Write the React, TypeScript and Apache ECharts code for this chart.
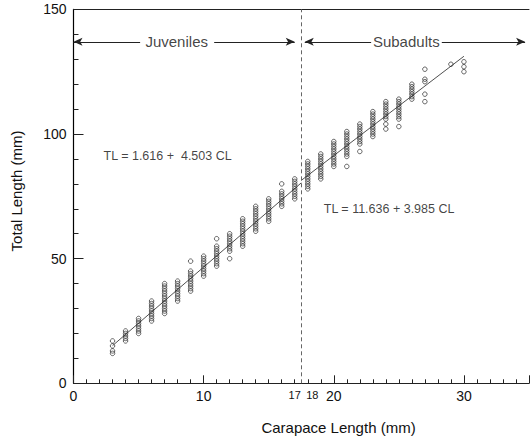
import React, { useEffect, useRef } from "react";
import * as echarts from "echarts";

const FONT = "'Liberation Sans', Arial, Helvetica, sans-serif";

// Carapace length (mm) columns and the total lengths (mm) read at each column
const juvenileCL = [3, 4, 5, 6, 7, 8, 9, 10, 11, 12, 13, 14, 15, 16, 17];
const juvenileTL = [
  [12, 13, 15, 17],
  [17, 18, 19, 20, 21],
  [20, 21, 22, 23, 24, 25, 26],
  [25, 26, 27, 28, 29, 30, 31, 32, 33],
  [28, 29, 30, 31, 32, 33, 34, 35, 36, 37, 38, 39, 40],
  [33, 34, 35, 36, 37, 38, 39, 40, 41],
  [37, 38, 39, 40, 41, 42, 43, 44, 45, 49],
  [43, 44, 45, 46, 47, 48, 49, 50, 51],
  [47, 48, 49, 50, 51, 52, 53, 54, 55, 58],
  [50, 53, 54, 55, 56, 57, 58, 59, 60],
  [55, 56, 57, 58, 59, 60, 61, 62, 63, 64, 65, 66],
  [61, 62, 63, 64, 65, 66, 67, 68, 69, 70, 71],
  [65, 66, 67, 68, 69, 70, 71, 72, 73, 74],
  [71, 72, 73, 74, 75, 76, 77, 80],
  [74, 75, 76, 77, 78, 79, 80, 81, 82],
];
const subadultCL = [18, 19, 20, 21, 22, 23, 24, 25, 26, 27, 29, 30];
const subadultTL = [
  [78, 79, 80, 81, 82, 83, 84, 85, 86, 87, 88, 89],
  [82, 83, 84, 85, 86, 87, 88, 89, 90, 91, 92],
  [87, 88, 89, 90, 91, 92, 93, 94, 95, 96, 97],
  [87, 91, 92, 93, 94, 95, 96, 97, 98, 99, 100, 101],
  [93, 96, 97, 98, 99, 100, 101, 102, 103, 104],
  [99, 100, 101, 102, 103, 104, 105, 106, 107, 108, 109],
  [102, 104, 106, 107, 108, 109, 110, 111, 112, 113],
  [103, 106, 107, 108, 109, 110, 111, 112, 113, 114],
  [114, 115, 116, 117, 118, 119, 120],
  [113, 116, 121, 122, 126],
  [128],
  [125, 127, 129],
];

// Regression lines (end points)
const juvenileFit = [
  [3, 15.1],
  [17.5, 80.4],
];
const subadultFit = [
  [17.5, 81.4],
  [30, 131.2],
];

// Tick labels
const xMajorLabels = [0, 10, 20, 30];
const xBreakLabels = [17, 18];
const breakCL = 17.5;

// Annotations
const juvenileEquation = "TL = 1.616 +  4.503 CL";
const subadultEquation = "TL = 11.636 + 3.985 CL";
const groupNames = ["Juveniles", "Subadults"];

function flatten(cls: number[], tls: number[][]) {
  const out: number[][] = [];
  cls.forEach((c, i) => tls[i].forEach((t) => out.push([c, t])));
  return out;
}

export default function App() {
  const ref = useRef<HTMLDivElement>(null);

  useEffect(() => {
    if (!ref.current) return;
    const chart = echarts.init(ref.current, undefined, { renderer: "svg" });

    const pointStyle = {
      color: "rgba(0,0,0,0)",
      borderColor: "#111",
      borderWidth: 0.8,
    };
    const arrowY = 137;
    const arrow = (a: number, b: number, startArrow: boolean, endArrow: boolean) => [
      { coord: [a, arrowY], symbol: startArrow ? "arrow" : "none", symbolSize: [6, 9] },
      { coord: [b, arrowY], symbol: endArrow ? "arrow" : "none", symbolSize: [6, 9] },
    ];

    const option: any = {
      animation: false,
      backgroundColor: "#fff",
      textStyle: { fontFamily: FONT },
      grid: { left: 73.5, right: -3, top: 9.4, bottom: 53.7 },
      xAxis: [
        {
          type: "value",
          min: 0,
          max: 35,
          interval: 1,
          position: "bottom",
          axisLine: { show: true, onZero: false, lineStyle: { color: "#222", width: 1 } },
          axisTick: { show: true, inside: true, length: 4, lineStyle: { color: "#222", width: 1 } },
          splitLine: { show: false },
          axisLabel: {
            margin: 6,
            fontSize: 14,
            color: "#111",
            fontFamily: FONT,
            formatter: (v: number) => {
              const r = Math.round(v);
              if (xMajorLabels.includes(r)) return String(r);
              if (r === xBreakLabels[0]) return "{a|" + r + "}";
              if (r === xBreakLabels[1]) return "{b|" + r + "}";
              return "";
            },
            rich: {
              a: { fontSize: 11, color: "#111", fontFamily: FONT },
              b: { fontSize: 11, color: "#111", fontFamily: FONT, padding: [0, 0, 0, 9] },
            },
          },
        },
        {
          type: "value",
          min: 0,
          max: 35,
          interval: 10,
          position: "bottom",
          axisLine: { show: false, onZero: false },
          axisTick: { show: true, inside: true, length: 8, lineStyle: { color: "#222", width: 1 } },
          axisLabel: { show: false },
          splitLine: { show: false },
        },
        {
          type: "value",
          min: 0,
          max: 35,
          position: "top",
          axisLine: { show: true, onZero: false, lineStyle: { color: "#222", width: 1 } },
          axisTick: { show: false },
          axisLabel: { show: false },
          splitLine: { show: false },
        },
      ],
      yAxis: {
        type: "value",
        min: 0,
        max: 150,
        interval: 50,
        axisLine: { show: true, onZero: false, lineStyle: { color: "#000", width: 1.2 } },
        axisTick: { show: true, inside: true, length: 10, lineStyle: { color: "#222" } },
        minorTick: { show: true, splitNumber: 5, length: 5, lineStyle: { color: "#222" } },
        splitLine: { show: false },
        axisLabel: { fontSize: 14, margin: 7, color: "#111", fontFamily: FONT },
      },
      graphic: [
        {
          type: "text",
          x: 338.5,
          y: 427,
          style: {
            text: "Carapace Length (mm)",
            fontSize: 15,
            fontFamily: FONT,
            fill: "#111",
            align: "center",
            verticalAlign: "middle",
          },
        },
        {
          type: "text",
          x: 16,
          y: 191,
          rotation: Math.PI / 2,
          style: {
            text: "Total Length (mm)",
            fontSize: 15,
            fontFamily: FONT,
            fill: "#111",
            align: "center",
            verticalAlign: "middle",
          },
        },
      ],
      series: [
        {
          name: "Juveniles",
          type: "scatter",
          data: flatten(juvenileCL, juvenileTL),
          symbol: "circle",
          symbolSize: 4.5,
          itemStyle: pointStyle,
          z: 3,
          markLine: {
            silent: true,
            animation: false,
            label: { show: false },
            lineStyle: { color: "#222", width: 1, type: "solid" },
            data: [
              [
                { coord: [breakCL, 0], symbol: "none", lineStyle: { color: "#666", type: [4, 3], width: 1 } },
                { coord: [breakCL, 150], symbol: "none" },
              ],
              arrow(0, 5.12, true, false),
              arrow(10.81, 17.0, false, true),
              arrow(17.77, 22.87, true, false),
              arrow(28.3, 34.7, false, true),
            ],
          },
        },
        {
          name: "Subadults",
          type: "scatter",
          data: flatten(subadultCL, subadultTL),
          symbol: "circle",
          symbolSize: 4.5,
          itemStyle: pointStyle,
          z: 3,
        },
        {
          type: "line",
          data: juvenileFit,
          symbol: "none",
          lineStyle: { color: "#222", width: 0.8 },
          z: 4,
        },
        {
          type: "line",
          data: subadultFit,
          symbol: "none",
          lineStyle: { color: "#222", width: 0.8 },
          z: 4,
        },
        {
          type: "scatter",
          symbolSize: 0,
          silent: true,
          z: 5,
          label: {
            show: true,
            position: "inside",
            formatter: "{b}",
            color: "#111",
            fontFamily: FONT,
            fontSize: 15,
          },
          data: [
            { name: groupNames[0], value: [7.93, 137] },
            { name: groupNames[1], value: [25.57, 137] },
            {
              name: juvenileEquation,
              value: [2.31, 91.3],
              label: { position: "right", distance: 0, fontSize: 12.5 },
            },
            {
              name: subadultEquation,
              value: [19.23, 70],
              label: { position: "right", distance: 0, fontSize: 12.5 },
            },
          ],
        },
      ],
    };

    chart.setOption(option);
    return () => chart.dispose();
  }, []);

  return (
    <div
      ref={ref}
      style={{ position: "fixed", left: 0, top: 0, width: 532, height: 437, background: "#fff" }}
    />
  );
}
